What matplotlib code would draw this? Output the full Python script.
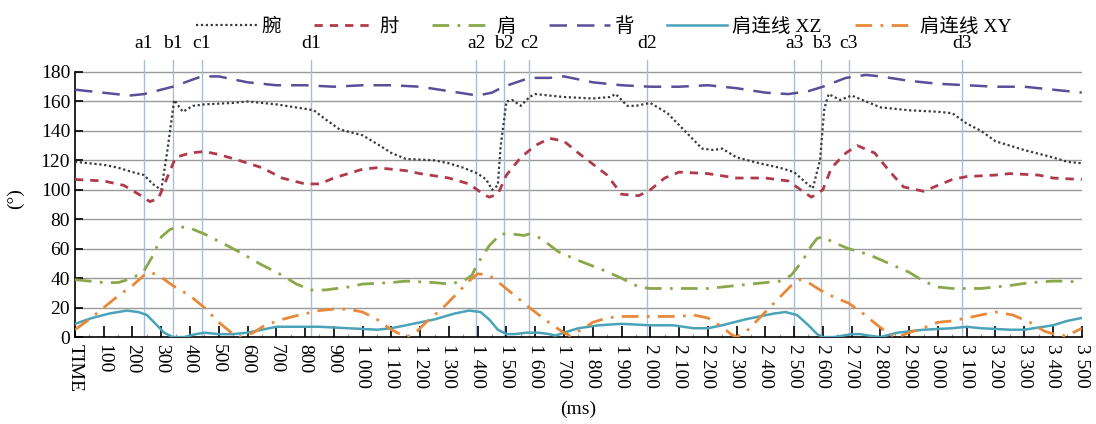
import matplotlib.pyplot as plt

plt.rcParams['font.family'] = ['Liberation Serif', 'Noto Sans CJK SC']

# 腕
wrist_t = [0, 100, 150, 200, 240, 270, 300, 320, 345, 375, 410, 450, 550, 600, 700, 800, 830, 870,
           920, 1000, 1060, 1100, 1150, 1250, 1300, 1350, 1400, 1430, 1450, 1470, 1480, 1500, 1520,
           1550, 1580, 1600, 1700, 1800, 1860, 1880, 1920, 1950, 2000, 2060, 2120, 2180, 2220, 2250,
           2300, 2380, 2450, 2500, 2540, 2565, 2590, 2605, 2620, 2660, 2700, 2750, 2800, 2900, 3000,
           3050, 3100, 3150, 3200, 3300, 3400, 3450, 3500]
wrist = [119, 117, 115, 112, 110, 104, 100, 125, 161, 153, 157, 158, 159, 160, 158, 155, 154, 148,
         141, 137, 130, 125, 121, 120, 118, 115, 111, 107, 100, 103, 130, 160, 161,
         157, 163, 165, 163, 162, 163, 165, 157, 157, 159, 152, 140, 128, 127, 128,
         122, 118, 115, 112, 105, 101, 120, 155, 165, 161, 164, 160, 156, 154, 153,
         152, 145, 140, 133, 127, 122, 119, 118]

# 肘
elbow_t = [0, 100, 170, 230, 260, 290, 320, 350, 400, 450, 500, 570, 650, 720, 800, 850, 900, 1000,
           1050, 1150, 1200, 1300, 1370, 1420, 1440, 1470, 1500, 1550, 1600, 1650, 1700, 1750, 1850,
           1900, 1960, 2000, 2050, 2100, 2200, 2300, 2400, 2480, 2530, 2560, 2600, 2630, 2680, 2720,
           2780, 2830, 2880, 2950, 3000, 3050, 3100, 3200, 3250, 3350, 3400, 3500]
elbow = [107, 106, 103, 96, 92, 94, 108, 122, 125, 126, 124, 120, 115, 108, 104, 104, 108, 114,
         115, 113, 111, 108, 104, 97, 95, 97, 110, 122, 130, 135, 133, 125, 110,
         97, 96, 100, 108, 112, 111, 108, 108, 106, 99, 95, 100, 115, 125, 130,
         125, 113, 102, 99, 103, 107, 109, 110, 111, 110, 108, 107]

# 肩
shoulder_t = [0, 100, 150, 200, 240, 270, 300, 330, 360, 400, 450, 500, 570, 640, 720, 770, 820, 870,
              950, 1000, 1100, 1150, 1250, 1300, 1350, 1380, 1400, 1440, 1480, 1520, 1560, 1580, 1620,
              1680, 1750, 1830, 1900, 1960, 2000, 2100, 2200, 2300, 2400, 2450, 2490, 2530, 2560, 2580,
              2600, 2640, 2690, 2760, 2830, 2900, 2950, 3000, 3050, 3150, 3250, 3320, 3400, 3450, 3500]
shoulder = [39, 37, 37, 40, 45, 55, 68, 73, 75, 74, 70, 65, 58, 50, 42, 36, 32, 32,
            34, 36, 37, 38, 37, 36, 38, 42, 50, 62, 70, 70, 69, 70, 67,
            58, 52, 46, 40, 34, 33, 33, 33, 35, 37, 38, 42, 52, 62, 67,
            68, 64, 60, 56, 50, 44, 38, 34, 33, 33, 35, 37, 38, 38, 37]

# 背
back_t = [0, 190, 240, 340, 440, 500, 600, 700, 800, 900, 1000, 1100, 1200, 1300, 1400, 1450,
          1490, 1580, 1650, 1700, 1800, 1900, 2000, 2100, 2200, 2300, 2400, 2480, 2550, 2600,
          2680, 2750, 2800, 2900, 3000, 3100, 3200, 3300, 3400, 3500]
back = [168, 164, 165, 170, 177, 177, 173, 171, 171, 170, 171, 171, 170, 167, 164, 166,
        170, 176, 176, 177, 173, 171, 170, 170, 171, 169, 166, 165, 167, 170,
        176, 178, 177, 174, 172, 171, 170, 170, 168, 166]

# 肩连线 XZ
xz_t = [0, 60, 120, 180, 220, 250, 280, 310, 340, 380, 420, 450, 500, 550, 600, 650, 700, 800, 850,
        950, 1050, 1100, 1150, 1250, 1320, 1370, 1410, 1440, 1470, 1500, 1530, 1570, 1610, 1650, 1670,
        1700, 1750, 1820, 1900, 2000, 2080, 2150, 2200, 2250, 2330, 2430, 2470, 2510, 2550, 2580, 2600,
        2640, 2700, 2730, 2760, 2800, 2860, 2950, 3050, 3100, 3150, 3250, 3300, 3400, 3450, 3500]
xz = [9, 13, 16, 18, 17, 15, 9, 3, 0, 0, 2, 3, 2, 2, 3, 5, 7, 7, 7,
      6, 5, 6, 8, 12, 16, 18, 17, 12, 5, 2, 2, 3, 3, 2, 1,
      3, 6, 8, 9, 8, 8, 6, 6, 8, 12, 16, 17, 15, 8, 2, 0,
      0, 2, 2, 1, 0, 3, 5, 6, 7, 6, 5, 5, 8, 11, 13]

# 肩连线 XY
xy_t = [0, 50, 100, 150, 200, 240, 260, 290, 340, 400, 450, 500, 550, 580, 620, 660, 720, 780, 850,
        900, 950, 1000, 1050, 1100, 1150, 1180, 1220, 1280, 1330, 1370, 1400, 1440, 1480, 1530, 1580,
        1620, 1660, 1700, 1720, 1760, 1800, 1850, 1900, 2000, 2100, 2150, 2200, 2250, 2280, 2300, 2340,
        2390, 2440, 2490, 2520, 2550, 2590, 2640, 2690, 2740, 2790, 2830, 2860, 2900, 2960, 3000, 3050,
        3100, 3150, 3200, 3260, 3320, 3370, 3420, 3450, 3500]
xy = [5, 12, 20, 28, 35, 42, 44, 42, 35, 28, 20, 10, 2, 0, 3, 8, 12, 15, 18,
      19, 19, 17, 12, 5, 0, 2, 10, 20, 30, 38, 43, 42, 36, 28, 20,
      14, 8, 3, 1, 5, 10, 13, 14, 14, 14, 15, 13, 7, 2, 0, 5,
      15, 25, 35, 39, 37, 32, 27, 23, 16, 8, 2, 0, 3, 7, 10, 11,
      13, 15, 17, 15, 10, 4, 1, 1, 6]

# 阶段标记
marks = ['a1', 'b1', 'c1', 'd1', 'a2', 'b2', 'c2', 'd2', 'a3', 'b3', 'c3', 'd3']
mark_t = [240, 340, 440, 820, 1395, 1490, 1580, 1990, 2500, 2595, 2690, 3085]

xticks = list(range(0, 3600, 100))
xlabels = ['TIME'] + [str(v) if v < 1000 else f'{v // 1000} {v % 1000:03d}' for v in xticks[1:]]

fig = plt.figure(figsize=(10.96, 4.24), dpi=100)
ax = fig.add_axes([0.0684, 0.205, 0.9186, 0.653])

for v in range(20, 181, 20):
    ax.axhline(v, color='#9a9a9a', lw=1, zorder=1)
for t, m in zip(mark_t, marks):
    ax.axvline(t, color='#a9bdd8', lw=1, zorder=1)
    ax.text(t, 1.06, m, transform=ax.get_xaxis_transform(), ha='center', va='center', fontsize=14)

ax.plot(wrist_t, wrist, color='#3a3a3a', lw=1.6, ls=(0, (1, 1.2)), label='腕', zorder=3)
ax.plot(elbow_t, elbow, color='#b03a4a', lw=2, ls=(0, (3, 2.5)), label='肘', zorder=3)
ax.plot(shoulder_t, shoulder, color='#8aa84a', lw=2, ls=(0, (6, 3, 1, 3)), label='肩', zorder=3)
ax.plot(back_t, back, color='#5a4e98', lw=1.8, ls=(0, (7, 4)), label='背', zorder=3)
ax.plot(xz_t, xz, color='#4aa3b8', lw=1.8, label='肩连线 XZ', zorder=3)
ax.plot(xy_t, xy, color='#e8893a', lw=2, ls=(0, (6, 3, 1, 3)), label='肩连线 XY', zorder=3)

ax.set_xlim(0, 3500)
ax.set_ylim(0, 188)
ax.set_xticks(xticks)
ax.set_xticklabels(xlabels, rotation=-90, fontsize=14)
ax.set_xticks(range(50, 3500, 100), minor=True)
ax.set_yticks(range(0, 181, 20))
ax.tick_params(axis='y', labelsize=14, direction='in', length=6, width=1.2)
ax.tick_params(axis='x', which='major', direction='in', length=8, width=1.2, pad=5)
ax.tick_params(axis='x', which='minor', direction='in', length=2, width=0.8, color='#999999')
for s in ['top', 'right']:
    ax.spines[s].set_visible(False)
ax.spines['left'].set_bounds(0, 180)
ax.spines['left'].set_linewidth(1.2)
ax.spines['bottom'].set_linewidth(1.2)
ax.set_ylabel('(°)', fontsize=14, labelpad=12)
ax.set_xlabel('(ms)', fontsize=14, labelpad=6)

h, l = ax.get_legend_handles_labels()
fig.legend(h, l, loc='upper center', bbox_to_anchor=(0.551, 1.0), ncol=6, fontsize=14,
           frameon=False, handlelength=3.1, handletextpad=0.25, columnspacing=1.7)

fig.savefig('out.png', dpi=100)
